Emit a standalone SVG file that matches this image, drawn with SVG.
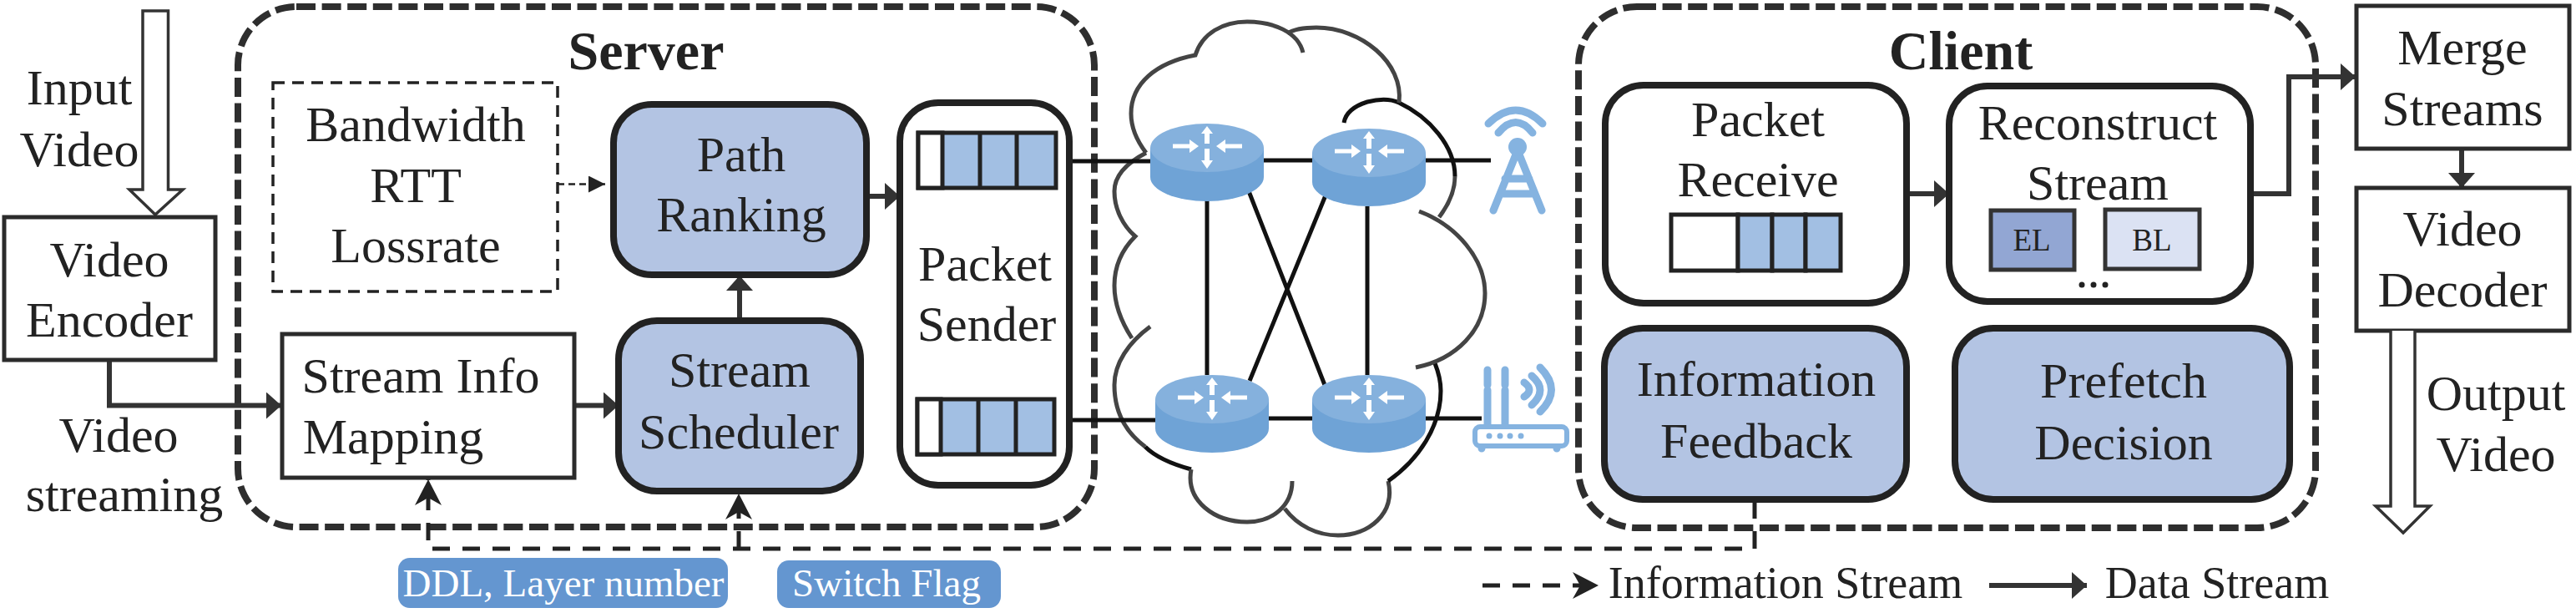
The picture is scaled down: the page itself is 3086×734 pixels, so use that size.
<svg xmlns="http://www.w3.org/2000/svg" width="3086" height="734" viewBox="0 0 3086 734">
<style>
text{font-family:"Liberation Serif","Times New Roman",serif;font-size:60px;fill:#222;text-anchor:middle}
.b{fill:#fff;stroke:#2b2b2b;stroke-width:5}
.r{fill:#fff;stroke:#222;stroke-width:8}
.f{fill:#b3c4e3;stroke:#222;stroke-width:8}
.q{fill:#a2bfe3;stroke:#222;stroke-width:5}
.qw{fill:#fff;stroke:#222;stroke-width:5}
.group{fill:none;stroke:#2e2e2e;stroke-width:8;stroke-dasharray:23 7.6}
.c{fill:none;stroke:#333;stroke-width:6}
.d{fill:none;stroke:#222;stroke-width:5;stroke-dasharray:21 15}
.net{fill:none;stroke:#111;stroke-width:5}
.cl{fill:none;stroke:#444;stroke-width:5}
.cb{fill:none;stroke:#111;stroke-width:5}
.hollow{fill:#fff;stroke:#333;stroke-width:3.5}
.ic{fill:none;stroke:#85b3e0;stroke-width:9;stroke-linecap:round}
.tag{fill:#6496d0}
.title{font-size:66px;font-weight:bold}
.tagt{fill:#fff;font-size:47px}
.leg{font-size:54px}
.sm{font-size:37px}
</style>
<defs>
<marker id="s" markerUnits="userSpaceOnUse" markerWidth="20" markerHeight="34" refX="18" refY="16" orient="auto"><path d="M0,0L18,16L0,32z" fill="#333"/></marker>
<marker id="t" markerUnits="userSpaceOnUse" markerWidth="22" markerHeight="22" refX="20" refY="10" orient="auto"><path d="M0,0L20,10L0,20z" fill="#222"/></marker>
<marker id="n" markerUnits="userSpaceOnUse" markerWidth="34" markerHeight="34" refX="31" refY="16" orient="auto"><path d="M0,0L31,16L0,32L9,16z" fill="#222"/></marker>
<g id="router">
<path d="M-68,0V35A68,29 0 0 0 68,35V0z" fill="#6fa3d6"/>
<ellipse cx="0" cy="0" rx="68" ry="29" fill="#85b1dd"/>
<path d="M-41,-4.500H-21V-10L-10,-2L-21,6V.5H-41zM42,-4.500H22V-10L11,-2L22,6V.5H42z" fill="#fff"/>
<path d="M-3,-5V-17H-7L0,-26L7,-17H3V-5zM-3,1V15H-7L0,25L7,15H3V1z" fill="#fff"/>
</g>
</defs>
<rect x="0" y="0" width="3086" height="734" fill="#fff"/>

<g id="server-group"><rect class="group" x="285" y="8" width="1026" height="623" rx="70"/><text class="title" x="774" y="83">Server</text></g>
<g id="client-group"><rect class="group" x="1891" y="8" width="883" height="624" rx="70"/><text class="title" x="2349" y="83">Client</text></g>

<g id="cloud">
<path class="cl" d="M1561,63C1555,38 1525,26 1494,26C1465,26 1440,40 1432,66C1385,75 1355,100 1355,136C1355,155 1363,170 1373,183"/>
<path class="cl" d="M1373,183C1350,195 1335,210 1335,229C1335,250 1345,270 1360,283C1343,300 1335,320 1335,342C1335,365 1343,385 1356,405"/>
<path class="cl" d="M1378,391C1352,410 1335,435 1335,461C1335,490 1345,515 1372,535"/>
<path class="cb" d="M1372,535C1385,548 1405,556 1427,562"/>
<path class="cl" d="M1427,562C1420,600 1455,625 1494,625C1525,625 1548,605 1548,576"/>
<path class="cl" d="M1539,609C1555,630 1578,641 1603,641C1640,641 1672,615 1663,576"/>
<path class="cb" d="M1663,576C1700,550 1726,510 1726,468C1726,455 1723,445 1719,435"/>
<path class="cl" d="M1696,440C1745,430 1779,395 1779,351C1779,310 1745,270 1700,253"/>
<path class="cl" d="M1724,260C1737,243 1743,228 1743,211"/>
<path class="cb" d="M1743,211C1743,175 1712,140 1676,123C1665,118 1650,119 1638,122C1622,127 1612,135 1610,147"/>
<path class="cl" d="M1676,123C1682,75 1630,33 1577,33C1563,33 1550,35 1542,40"/>
</g>

<g id="connectors">
<path class="c" d="M131,431V485.500H337" marker-end="url(#s)"/>
<path class="c" d="M688,485.500H741" marker-end="url(#s)"/>
<path class="c" d="M886,384V330" marker-end="url(#s)"/>
<path class="c" d="M1038,235H1078" marker-end="url(#s)"/>
<path fill="none" stroke="#222" stroke-width="2.500" stroke-dasharray="8 5" d="M668,220.500H725" marker-end="url(#t)"/>
<path class="net" d="M1281,193H1378M1513,192H1572M1708,192H1786M1281,503H1384M1520,501H1572M1708,501H1775M1446,240V449M1638,247V449M1496,229L1587,461M1588,234L1497,456"/>
<path class="c" d="M2284,232H2335" marker-end="url(#s)"/>
<path class="c" d="M2696,232H2742V92H2822" marker-end="url(#s)"/>
<path class="c" d="M2949,178V225" marker-end="url(#s)"/>
<path class="d" d="M2102,600V657H513V574" marker-end="url(#n)"/>
<path class="d" d="M885,657V591" marker-end="url(#n)"/>
<path class="d" d="M1776,701H1915" marker-end="url(#n)"/>
<path class="c" d="M2383,701H2500" marker-end="url(#s)"/>
</g>

<g id="input-arrow"><path class="hollow" d="M171,13H201.500V227H219L186,257L155,227H171z"/><text x="95" y="125">Input</text><text x="95" y="199">Video</text></g>
<g id="video-encoder"><rect class="b" x="5" y="260" width="253" height="171"/><text x="131" y="331">Video</text><text x="131" y="403">Encoder</text></g>
<g id="video-streaming"><text x="142" y="541">Video</text><text x="149" y="612">streaming</text></g>
<g id="metrics"><rect x="327" y="99" width="341" height="250" fill="#fff" stroke="#222" stroke-width="3.500" stroke-dasharray="14 9"/><text x="498" y="169">Bandwidth</text><text x="498" y="242">RTT</text><text x="498" y="314">Lossrate</text></g>
<g id="path-ranking"><rect class="f" x="735" y="125" width="303" height="204" rx="46"/><text x="888" y="205">Path</text><text x="888" y="277">Ranking</text></g>
<g id="stream-info"><rect class="b" x="338" y="400" width="350" height="172"/><text x="504" y="470">Stream Info</text><text x="471" y="543">Mapping</text></g>
<g id="stream-scheduler"><rect class="f" x="741" y="384" width="290" height="204" rx="46"/><text x="886" y="463">Stream</text><text x="885" y="537">Scheduler</text></g>
<g id="packet-sender"><rect class="r" x="1078" y="123" width="203" height="458" rx="46"/>
<rect class="q" x="1100" y="159" width="165" height="66"/><rect class="qw" x="1100" y="159" width="29" height="66"/><path class="q" d="M1174,159V225M1218,159V225"/>
<rect class="q" x="1099" y="478" width="164" height="66"/><rect class="qw" x="1099" y="478" width="28" height="66"/><path class="q" d="M1172,478V544M1217,478V544"/>
<text x="1180" y="336">Packet</text><text x="1182" y="408">Sender</text></g>

<g id="router-1"><use href="#router" x="1446" y="177"/></g>
<g id="router-2"><use href="#router" x="1640" y="183"/></g>
<g id="router-3"><use href="#router" x="1452" y="478"/></g>
<g id="router-4"><use href="#router" x="1640" y="478"/></g>

<g id="tower" class="ic"><path d="M1783,148Q1816,116 1848,148M1795,159Q1816,134 1836,159M1818,180L1789,252M1818,180L1847,252M1803,214H1832M1798,232H1838"/><circle cx="1818" cy="176" r="11" fill="#85b3e0" stroke="none"/></g>
<g id="wifi-router" class="ic"><path d="M1782,443V461M1803,443V461M1782,467V510M1803,467V510M1826,458Q1838,467 1826,475M1835,450Q1855,467 1835,485M1845,440Q1872,467 1845,493M1775,535V537M1865,535V537"/><rect x="1767" y="511" width="110" height="23" rx="6" fill="#fff" stroke-width="6"/><g fill="#85b3e0" stroke="none"><circle cx="1784" cy="522" r="3.500"/><circle cx="1797" cy="522" r="3.500"/><circle cx="1809" cy="522" r="3.500"/><circle cx="1822" cy="522" r="3.500"/></g></g>

<g id="packet-receive"><rect class="r" x="1923" y="102" width="361" height="261" rx="46"/><rect class="qw" x="2002" y="257" width="80" height="67"/><rect class="q" x="2082" y="257" width="41" height="67"/><rect class="q" x="2123" y="257" width="40" height="67"/><rect class="q" x="2163" y="257" width="42" height="67"/><text x="2106" y="163">Packet</text><text x="2106" y="235">Receive</text></g>
<g id="reconstruct-stream"><rect class="r" x="2335" y="103" width="361" height="258" rx="46"/><text x="2513" y="167">Reconstruct</text><text x="2513" y="239">Stream</text>
<rect x="2385" y="252" width="100" height="71" fill="#92a6d3" stroke="#333" stroke-width="5"/><text class="sm" x="2434" y="300">EL</text>
<rect x="2522" y="251" width="113" height="71" fill="#dbe2f3" stroke="#333" stroke-width="5"/><text class="sm" x="2578" y="300">BL</text>
<g fill="#222"><circle cx="2494" cy="341" r="3.500"/><circle cx="2508" cy="341" r="3.500"/><circle cx="2522" cy="341" r="3.500"/></g></g>
<g id="information-feedback"><rect class="f" x="1922" y="393" width="362" height="205" rx="46"/><text x="2104" y="474">Information</text><text x="2104" y="548">Feedback</text></g>
<g id="prefetch-decision"><rect class="f" x="2342" y="393" width="401" height="205" rx="46"/><text x="2544" y="476">Prefetch</text><text x="2544" y="550">Decision</text></g>
<g id="merge-streams"><rect class="b" x="2823" y="7" width="255" height="171"/><text x="2950" y="77">Merge</text><text x="2950" y="150">Streams</text></g>
<g id="video-decoder"><rect class="b" x="2823" y="225" width="255" height="171"/><text x="2950" y="294">Video</text><text x="2950" y="367">Decoder</text></g>
<g id="output-arrow"><path class="hollow" d="M2864,396V606H2846L2879,638L2911,606H2893V396"/><text x="2990" y="491">Output</text><text x="2990" y="564">Video</text></g>

<g id="tag-ddl"><rect class="tag" x="477" y="668" width="395" height="60" rx="14"/><text class="tagt" x="675" y="714">DDL, Layer number</text></g>
<g id="tag-switch"><rect class="tag" x="931" y="671" width="268" height="57" rx="14"/><text class="tagt" x="1062" y="714">Switch Flag</text></g>
<g id="legend"><text class="leg" x="2139" y="716">Information Stream</text><text class="leg" x="2656" y="716">Data Stream</text></g>
</svg>
